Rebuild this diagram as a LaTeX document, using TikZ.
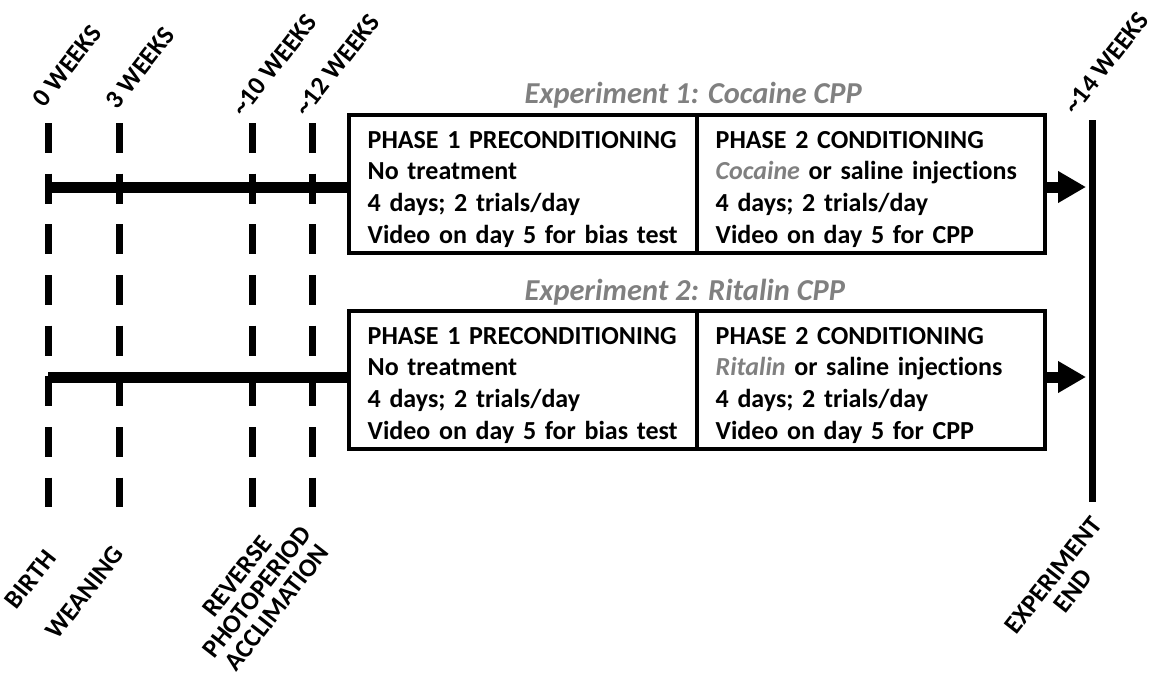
\documentclass[tikz,border=0pt]{standalone}
\usepackage{fontspec}
\setmainfont{Carlito}[Ligatures=NoCommon]
\usepackage{xcolor}
\usetikzlibrary{arrows.meta,positioning}
\definecolor{titlegray}{RGB}{128,128,128}

\begin{document}
\begin{tikzpicture}[x=0.75pt, y=-0.75pt,
    every node/.style={font=\bfseries\fontsize{19.5}{19}\selectfont},
    phase/.style={draw, line width=3pt, outer sep=0pt, minimum width=261pt, minimum height=103.5pt,
        text width=233pt, inner xsep=14pt, inner ysep=0pt, text height=0pt, text depth=54pt,
        align=left, font=\bfseries\fontsize{19.5}{23.75}\selectfont},
    weekline/.style={line width=5.25pt, dash pattern=on 22.5pt off 15.5pt},
    timeline/.style={line width=8.25pt},
    goarrow/.style={line width=8.25pt, -{Triangle[length=21pt, width=22.5pt]}},
    expt/.style={text=titlegray, font=\bfseries\itshape\fontsize{22.8}{26}\selectfont, anchor=base west},
    label/.style={rotate=52, anchor=base west},
    event/.style={rotate=52, align=center}]
    \useasboundingbox (0,0) rectangle (1153,679);
    % dashed week marks
    \coordinate (b0) at (48,123);
    \coordinate (e0) at (48,507);
    \coordinate (b3) at (119,123);
    \coordinate (e3) at (119,507);
    \coordinate (b10) at (252,123);
    \coordinate (e10) at (252,507);
    \coordinate (b12) at (312,123);
    \coordinate (e12) at (312,507);
    \draw[weekline] (b0) -- (e0);
    \draw[weekline] (b3) -- (e3);
    \draw[weekline] (b10) -- (e10);
    \draw[weekline] (b12) -- (e12);
    % end of experiment
    \coordinate (b14) at (1092,120);
    \coordinate (e14) at (1092,502);
    \draw[line width=5.25pt] (b14) -- (e14);
    % week labels
    \node[label] (w0) at (42,112) {0 WEEKS};
    \node[label] (w3) at (115,114) {3 WEEKS};
    \node[label] (w10) at (241,121) {\textasciitilde10 WEEKS};
    \node[label] (w12) at (304,121) {\textasciitilde12 WEEKS};
    \node[label] (w14) at (1073,119) {\textasciitilde14 WEEKS};
    % event labels
    \node[rotate=52, anchor=base east] (birth) at (60,555) {BIRTH};
    \node[rotate=52, anchor=base east] (wean) at (128,551) {WEANING};
    \node[event] (photo) at (257,592) {REVERSE\\PHOTOPERIOD\\ACCLIMATION};
    \node[event] (finish) at (1063,583) {EXPERIMENT\\END};
    % experiment 1
    \node[expt] (title1) at (520,103) {Experiment 1: Cocaine CPP};
    \node[phase] (pre1) at (523,184) {PHASE 1 PRECONDITIONING\\No treatment\\4 days; 2 trials/day\\Video on day 5 for bias test};
    \node[phase, right=0pt of pre1] (cond1) {PHASE 2 CONDITIONING\\{\color{titlegray}\itshape Cocaine} or saline injections\\4 days; 2 trials/day\\Video on day 5 for CPP};
    \coordinate (start1) at (48,187);
    \draw[timeline] (start1) -- (pre1.west |- start1);
    \draw[goarrow] (cond1.east |- start1) -- ([xshift=-4.5pt]b14 |- start1);
    % experiment 2
    \node[expt] (title2) at (520,300) {Experiment 2: Ritalin CPP};
    \node[phase] (pre2) at (523,380) {PHASE 1 PRECONDITIONING\\No treatment\\4 days; 2 trials/day\\Video on day 5 for bias test};
    \node[phase, right=0pt of pre2] (cond2) {PHASE 2 CONDITIONING\\{\color{titlegray}\itshape Ritalin} or saline injections\\4 days; 2 trials/day\\Video on day 5 for CPP};
    \coordinate (start2) at (48,377);
    \draw[timeline] (start2) -- (pre2.west |- start2);
    \draw[goarrow] (cond2.east |- start2) -- ([xshift=-4.5pt]b14 |- start2);
\end{tikzpicture}
\end{document}
